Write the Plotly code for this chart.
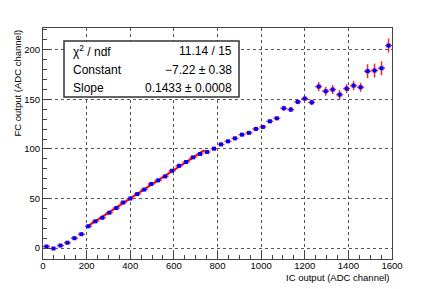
import plotly.graph_objects as go

# Data
ic_centers = [16, 48, 80, 112, 144, 176, 208, 240, 272, 304, 336, 368, 400, 432, 464,
              496, 528, 560, 592, 624, 656, 688, 720, 752, 784, 816, 848, 880, 912, 944,
              976, 1008, 1040, 1072, 1104, 1136, 1168, 1200, 1232, 1264, 1296, 1328, 1360,
              1392, 1424, 1456, 1488, 1520, 1552, 1584]
fc_values = [1.6, -0.4, 2.6, 5.4, 10.0, 14.0, 22.0, 27.0, 30.6, 35.7, 40.4, 46.0, 50.0, 54.5,
             59.0, 64.6, 68.3, 72.3, 78.0, 83.0, 86.8, 91.5, 95.0, 97.0, 100.3, 104.6, 107.7,
             110.7, 114.4, 116.2, 120.2, 122.2, 127.9, 130.9, 141.0, 139.7, 147.5, 150.8,
             147.0, 162.9, 158.2, 159.9, 154.8, 160.9, 163.9, 162.2, 178.4, 179.1, 181.4, 204.3]
fc_errors = [0.8, 0.8, 0.8, 0.8, 0.8, 0.8, 0.9, 0.9, 0.9, 0.9, 0.9, 0.9, 1.0, 1.0, 1.0,
             1.0, 1.0, 1.0, 1.1, 1.1, 1.1, 1.1, 1.2, 1.2, 1.2, 1.3, 1.3, 1.3, 1.4, 1.4,
             1.5, 1.5, 1.6, 1.7, 2.5, 2.5, 2.5, 2.8, 2.8, 4.5, 4.5, 4.5, 4.5, 4.5, 4.5, 4.5,
             7.0, 7.0, 7.0, 7.0]
bin_half_width = [16] * len(ic_centers)

fit_constant = -7.22
fit_slope = 0.1433
fit_range = [200, 740]
fit_y = [fit_constant + fit_slope * v for v in fit_range]

stats_labels = ["χ<sup>2</sup> / ndf", "Constant", "Slope"]
stats_values = ["11.14 / 15", "−7.22 ± 0.38", "0.1433 ± 0.0008"]

FONT = "Liberation Sans, Arial, sans-serif"

fig = go.Figure()
fig.add_trace(go.Scatter(
    x=fit_range, y=fit_y, mode="lines",
    line=dict(color="#ff0000", width=2), showlegend=False,
))
fig.add_trace(go.Scatter(
    x=ic_centers, y=fc_values, mode="markers",
    marker=dict(symbol="square", size=4, color="#0000ff"),
    error_x=dict(type="data", array=bin_half_width, color="#ff2020", thickness=1.5, width=0),
    error_y=dict(type="data", array=fc_errors, color="#ff2020", thickness=1.5, width=0),
    showlegend=False,
))

axis_common = dict(
    showline=True, mirror=True, linecolor="#444444", linewidth=1,
    showgrid=True, gridcolor="#555555", gridwidth=1, griddash="dot",
    ticks="inside", ticklen=8, tickcolor="#444444",
    tickfont=dict(family=FONT, size=9.5, color="#000000"),
    zeroline=False, automargin=False,
)
fig.update_xaxes(range=[0, 1600], dtick=200, tick0=0, ticklabelstandoff=-2,
                 minor=dict(ticks="inside", ticklen=4, dtick=50, tickcolor="#444444", showgrid=False),
                 **axis_common)
fig.update_yaxes(range=[-11, 222], dtick=50, tick0=0,
                 minor=dict(ticks="inside", ticklen=4, dtick=10, tickcolor="#444444", showgrid=False),
                 **axis_common)

# page body has an 8px default margin: lay out in window pixels, then offset
OFF = 8
W, H = 436 - 2 * OFF, 289 - OFF
frame_l, frame_r, frame_t, frame_b = 43, 392, 28, 259
ml, mt = frame_l - OFF, frame_t - OFF
mr = W - (frame_r - OFF)
mb = H - (frame_b - OFF)
pw, ph = W - ml - mr, H - mt - mb

def px_to_paper(x, y):
    return (x - OFF - ml) / pw, 1 - (y - OFF - mt) / ph

box_x0, box_x1 = 64, 239
box_y0, box_y1 = 41, 97
x0p, y1p = px_to_paper(box_x0, box_y0)
x1p, y0p = px_to_paper(box_x1, box_y1)
fig.add_shape(type="rect", xref="paper", yref="paper", x0=x0p, x1=x1p, y0=y0p, y1=y1p,
              line=dict(color="#333333", width=1.5), fillcolor="white", layer="above")
row_y = [51, 70, 88]
for lab, val, ry in zip(stats_labels, stats_values, row_y):
    lx, ly = px_to_paper(71, ry)
    rx, _ = px_to_paper(234, ry)
    fig.add_annotation(x=lx, y=ly, xref="paper", yref="paper", text=lab, showarrow=False,
                       xanchor="left", yanchor="middle",
                       font=dict(family=FONT, size=12, color="#000000"))
    fig.add_annotation(x=rx, y=ly, xref="paper", yref="paper", text=val, showarrow=False,
                       xanchor="right", yanchor="middle",
                       font=dict(family=FONT, size=12, color="#000000"))

# axis titles
tx, ty = px_to_paper(392, 277)
fig.add_annotation(x=tx, y=ty, xref="paper", yref="paper", text="IC output (ADC channel)",
                   showarrow=False, xanchor="right", yanchor="middle",
                   font=dict(family=FONT, size=9.5, color="#000000"))
yx, yy = px_to_paper(17, 28)
fig.add_annotation(x=yx, y=yy, xref="paper", yref="paper", text="FC output (ADC channel)",
                   showarrow=False, textangle=-90, xanchor="center", yanchor="top",
                   font=dict(family=FONT, size=9.5, color="#000000"))

fig.update_layout(
    width=W, height=H,
    margin=dict(l=ml, r=mr, t=mt, b=mb, pad=0),
    paper_bgcolor="white", plot_bgcolor="white",
    font=dict(family=FONT),
)
fig.write_html("out.html")
